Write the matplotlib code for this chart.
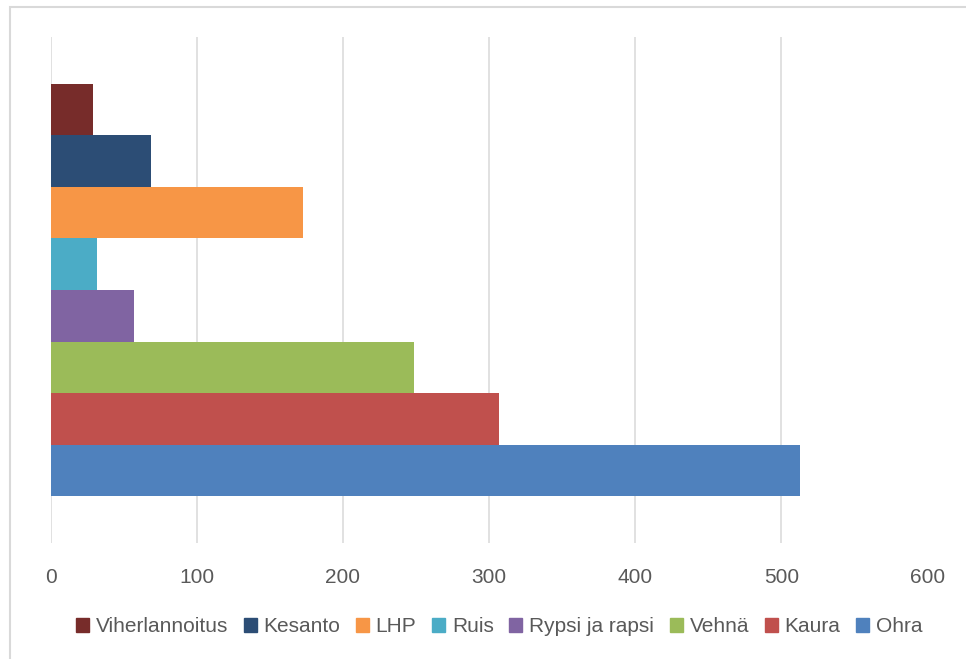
import matplotlib
matplotlib.use("Agg")
import matplotlib.pyplot as plt
import matplotlib.patches as mpatches
import numpy as np

# series in plotting order (bottom to top)
crops = ["Ohra", "Kaura", "Vehnä", "Rypsi ja rapsi", "Ruis", "LHP", "Kesanto", "Viherlannoitus"]
values = [513, 307, 249, 57, 32, 173, 69, 29]
colors = ["#4F81BD", "#C0504D", "#9BBB59", "#8064A2", "#4BACC6", "#F79646", "#2C4D75", "#772C2A"]
xticks = [0, 100, 200, 300, 400, 500, 600]

TEXT_COLOR = "#595959"
GRID_COLOR = "#D9D9D9"

plt.rcParams["font.family"] = ["Liberation Sans", "DejaVu Sans"]

fig = plt.figure(figsize=(9.66, 6.59), dpi=100)
ax = fig.add_axes([50.5 / 966, 1 - 543 / 659, 877 / 966, 506 / 659])

pos = np.arange(len(crops))
ax.barh(pos, values, height=1.0, color=colors, zorder=3)

ax.set_xlim(0, 600)
ax.set_ylim(-1.41, 8.41)
ax.set_xticks(xticks)
ax.set_yticks([])
ax.grid(axis="x", color=GRID_COLOR, linewidth=1.1, zorder=0)
for s in ax.spines.values():
    s.set_visible(False)
ax.tick_params(axis="x", length=0, pad=18, labelsize=15, labelcolor=TEXT_COLOR)

# legend (reverse order like Excel)
handles = [mpatches.Patch(color=c, label=n) for n, c in zip(crops, colors)][::-1]
fig.legend(handles=handles, loc="center", bbox_to_anchor=(0.5166, 1 - 627 / 659),
           ncol=len(crops), frameon=False, fontsize=15, labelcolor=TEXT_COLOR,
           handlelength=0.62, handleheight=0.62, handletextpad=0.33,
           columnspacing=0.75, borderaxespad=0)

# chart border
fig.add_artist(mpatches.Rectangle((10 / 966, -0.02), 1.0, 1 - 7 / 659 + 0.02,
                                  transform=fig.transFigure, fill=False,
                                  edgecolor=GRID_COLOR, linewidth=1.5))

fig.savefig("out.png", dpi=100)
